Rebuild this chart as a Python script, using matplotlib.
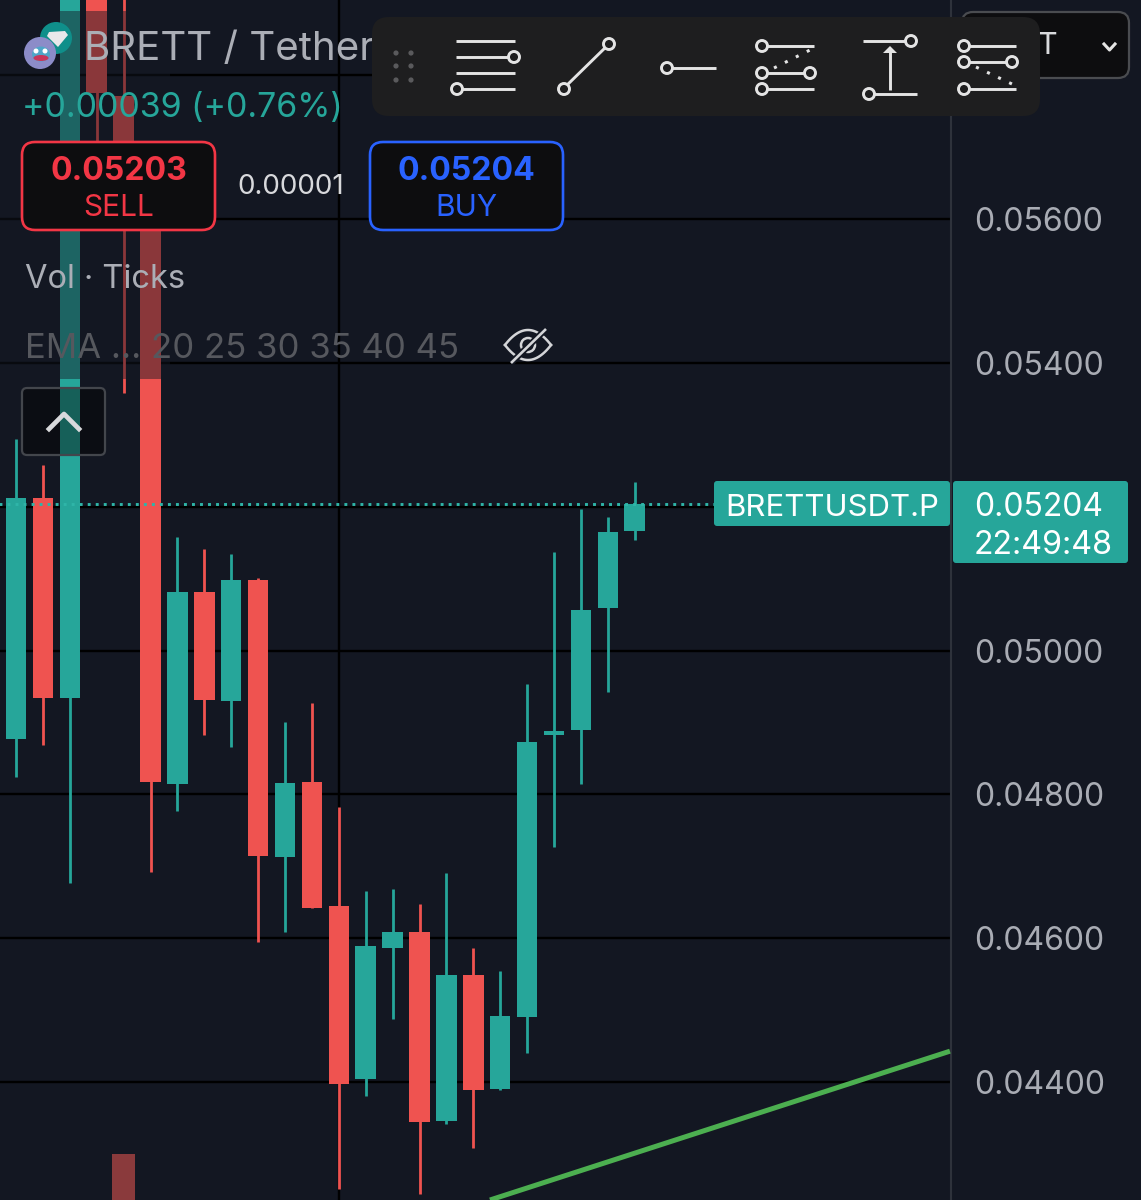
import numpy as np
from matplotlib import pyplot as plt
from matplotlib.patches import Circle, Ellipse, FancyBboxPatch, Rectangle, Polygon

plt.rcParams['font.family'] = ['Inter', 'DejaVu Sans']

# candles, left to right (first ones run past the top of the screen)
opens = [0.04877, 0.05213, 0.04934, 0.05980, 0.05772, 0.05640, 0.04814, 0.05081,
         0.04930, 0.05098, 0.04713, 0.04817, 0.04645, 0.04404, 0.04586, 0.04609,
         0.04346, 0.04549, 0.04390, 0.04490, 0.04883, 0.04889, 0.05059, 0.05166]
highs = [0.05295, 0.05258, 0.06000, 0.06050, 0.06000, 0.05640, 0.05158, 0.05141,
         0.05134, 0.05101, 0.04901, 0.04927, 0.04782, 0.04666, 0.04668, 0.04648,
         0.04691, 0.04586, 0.04554, 0.04953, 0.05137, 0.05197, 0.05186, 0.05235]
lows = [0.04824, 0.04869, 0.04677, 0.05696, 0.05358, 0.04692, 0.04777, 0.04883,
        0.04866, 0.04595, 0.04609, 0.04642, 0.04251, 0.04381, 0.04488, 0.04244,
        0.04342, 0.04308, 0.04389, 0.04440, 0.04727, 0.04814, 0.04942, 0.05154]
closes = [0.05212, 0.04934, 0.05950, 0.05775, 0.05640, 0.04817, 0.05081, 0.04931,
          0.05098, 0.04714, 0.04816, 0.04642, 0.04397, 0.04589, 0.04609, 0.04344,
          0.04549, 0.04389, 0.04492, 0.04873, 0.04888, 0.05056, 0.05165, 0.05204]

grid_prices = [0.058, 0.056, 0.054, 0.052, 0.050, 0.048, 0.046, 0.044]
tick_labels = ["", "0.05600", "0.05400", "", "0.05000", "0.04800", "0.04600", "0.04400"]
grid_candles = [12]

last_price = 0.05204
trend_x = [17.62, 34.72]
trend_price = [0.04236, 0.04443]
volume_x = [4]
volume_top = [0.04300]

BG = "#131722"
GREEN = "#26A69A"
RED = "#EF5350"
TOOL = "#E4E4E4"

fig = plt.figure(figsize=(11.41, 12), dpi=100, facecolor=BG)

# price chart, pixel scale worked out from the price axis
ax = fig.add_axes([0, 0, 951 / 1141, 1], facecolor=BG)
ax.set_xlim(-16 / 26.9, 935 / 26.9)
ax.set_ylim(0.04236, 0.05905)
ax.set_yticks(grid_prices, tick_labels)
ax.set_xticks(grid_candles, [""])
ax.yaxis.tick_right()
ax.tick_params(axis="both", length=0)
ax.tick_params(axis="y", pad=17, labelsize=23, labelcolor="#A9ACB4")
ax.grid(True, color="black", linewidth=1.7, zorder=1)
ax.set_axisbelow(True)
for name, spine in ax.spines.items():
    spine.set_visible(name == "right")
ax.spines["right"].set_color("#2E323B")
ax.spines["right"].set_linewidth(1.5)

ax.bar(volume_x, np.array(volume_top) - 0.042, bottom=0.042, width=0.88, color="#8A3A3C", zorder=2)

for i in range(len(opens)):
    color = GREEN if closes[i] >= opens[i] else RED
    ax.vlines(i, lows[i], highs[i], color=color, linewidth=2.0, zorder=3)
    ax.bar(i, abs(closes[i] - opens[i]), bottom=min(opens[i], closes[i]), width=0.76, color=color, zorder=4)

ax.plot([-1, 26], [last_price, last_price], color="#2FB5A8", linewidth=2.1, linestyle=(0, (1, 1.75)), zorder=5)
ax.plot(trend_x, trend_price, color="#4CAF50", linewidth=3.6, zorder=5, solid_capstyle="butt")

# everything on screen above the chart, in pixels
ui = fig.add_axes([0, 0, 1, 1])
ui.set_xlim(0, 1141)
ui.set_ylim(1200, 0)
ui.axis("off")
ui.patch.set_alpha(0)


def box(x0, y0, x1, y1, face, edge="none", lw=0, r=10, z=3):
    ui.add_patch(FancyBboxPatch((x0 + r, y0 + r), x1 - x0 - 2 * r, y1 - y0 - 2 * r,
                                boxstyle="round,pad={},rounding_size={}".format(r, r),
                                facecolor=face, edgecolor=edge, linewidth=lw, zorder=z))


def seg(x0, y0, x1, y1, z=7, lw=2.1, color=TOOL, **kw):
    ui.plot([x0, x1], [y0, y1], color=color, linewidth=lw, zorder=z, solid_capstyle="butt", **kw)


def ring(x, y, r=5.5):
    ui.add_patch(Circle((x, y), r, facecolor="#1E1E1F", edgecolor=TOOL, linewidth=2.1, zorder=8))


# dimmed strip behind the legend
ui.add_patch(Rectangle((0, 11), 170, 368, facecolor=BG, edgecolor="none", alpha=0.46, zorder=1))

# symbol icons
ui.add_patch(Circle((56, 38), 16, facecolor="#0F8F8A", edgecolor="none", zorder=2))
ui.add_patch(Polygon([[49, 32], [65, 31], [68, 35], [58, 47], [47, 36]], facecolor="#E8E8EA", zorder=2.1))
ui.add_patch(Circle((40, 53), 16, facecolor="#8C8CC8", edgecolor="none", zorder=2.2))
ui.add_patch(Ellipse((41, 54), 18, 15, facecolor="#4FA6C8", zorder=2.3))
ui.add_patch(Ellipse((41, 58), 15, 6, facecolor="#C8365A", zorder=2.4))
ui.add_patch(Circle((36, 51), 2.5, facecolor="white", zorder=2.4))
ui.add_patch(Circle((45, 51), 2.5, facecolor="white", zorder=2.4))

ui.text(84, 49, "BRETT / Tether", color="#ABAEB6", fontsize=29, va="center", zorder=3)
ui.text(22, 108, "+0.00039 (+0.76%)", color=GREEN, fontsize=24.4, va="center", zorder=3)

# sell / buy
box(22, 142, 215, 230, "#0D0D0F", "#F23645", 1.9, r=13)
box(370, 142, 563, 230, "#0D0D0F", "#2962FF", 1.9, r=13)
ui.text(118.5, 171, "0.05203", color="#F23645", fontsize=23, fontweight="bold", ha="center", va="center", zorder=4)
ui.text(118.5, 208, "SELL", color="#F23645", fontsize=21.5, ha="center", va="center", zorder=4)
ui.text(466, 171, "0.05204", color="#2962FF", fontsize=23, fontweight="bold", ha="center", va="center", zorder=4)
ui.text(466, 208, "BUY", color="#2962FF", fontsize=21.5, ha="center", va="center", zorder=4)
ui.text(291, 187, "0.00001", color="#D8D9DC", fontsize=20, ha="center", va="center", zorder=4)

ui.text(25, 280, "Vol · Ticks", color="#ABAEB6", fontsize=23.5, va="center", zorder=3)
ui.text(25, 349, "EMA ... 20 25 30 35 40 45", color="#56585E", fontsize=25, va="center", zorder=3)

# hidden-indicators eye
eye_dx = np.linspace(-23, 23, 60)
eye_dy = 15 * (1 - (eye_dx / 23) ** 2)
ui.plot(528 + eye_dx, 345 - eye_dy, color="#D4D5D8", linewidth=1.8, zorder=4)
ui.plot(528 + eye_dx, 345 + eye_dy, color="#D4D5D8", linewidth=1.8, zorder=4)
ui.add_patch(Circle((528, 345), 7, facecolor="none", edgecolor="#D4D5D8", linewidth=1.8, zorder=4))
seg(511, 363, 546, 329, z=4.1, lw=4.5, color=BG)
seg(511, 363, 546, 329, z=4.2, lw=1.9, color="#D4D5D8")

# collapse button
ui.add_patch(FancyBboxPatch((27, 393), 73, 57, boxstyle="round,pad=5,rounding_size=5",
                            facecolor=(0, 0, 0, 0.42), edgecolor="#43464C", linewidth=1.6, zorder=3))
ui.plot([49, 64, 79], [429, 414, 429], color="#D8D9DC", linewidth=3.4, zorder=4)

# dropdown behind the drawing tools
box(962, 12, 1129, 78, "#0D0D0F", "#4A4C50", 1.6, r=11, z=4)
ui.text(1047, 46, "T", color="#D8D9DC", fontsize=22, ha="center", va="center", zorder=4.5)
ui.plot([1104, 1109.5, 1115], [44, 50, 44], color="#E4E4E4", linewidth=2.2, zorder=4.5)

# drawing tools panel
box(372, 17, 1040, 116, "#1E1E1F", r=17, z=5)
for gx in [396, 411]:
    for gy in [53, 66, 80]:
        ui.add_patch(Circle((gx, gy), 2.6, facecolor="#5A5A5C", zorder=6))

for y in [41, 57, 73, 89]:
    seg(456, y, 515, y)
ring(514, 57)
ring(457, 89)

seg(563, 89, 609, 44)
ring(564, 89)
ring(609, 44)

seg(667, 68, 716, 68)
ring(667, 68)

for y in [46, 73, 89]:
    seg(762, y, 814, y)
seg(774, 68, 810, 50, lw=2.2, linestyle=(0, (1, 3)))
ring(762, 46)
ring(762, 73)
ring(810, 73)
ring(762, 89)

seg(863, 41, 911, 41)
seg(869, 94, 917, 94)
seg(890, 90, 890, 52)
ui.add_patch(Polygon([[883, 53], [897, 53], [890, 46]], facecolor=TOOL, zorder=7))
ring(911, 41)
ring(869, 94)

for y in [46, 62, 89]:
    seg(964, y, 1016, y)
seg(976, 67, 1012, 84, lw=2.2, linestyle=(0, (1, 3)))
ring(964, 46)
ring(964, 62)
ring(1012, 62)
ring(964, 89)

# last price tags
box(714, 481, 950, 526, GREEN, r=3, z=4)
ui.text(832, 508, "BRETTUSDT.P", color="white", fontsize=22.4, ha="center", va="center", zorder=5)
box(953, 481, 1128, 563, GREEN, r=3, z=4)
ui.text(1039, 508, "0.05204", color="white", fontsize=23, ha="center", va="center", zorder=5)
ui.text(1043, 545, "22:49:48", color="white", fontsize=23.2, ha="center", va="center", zorder=5)

plt.savefig("out.png", dpi=100, facecolor=BG)
